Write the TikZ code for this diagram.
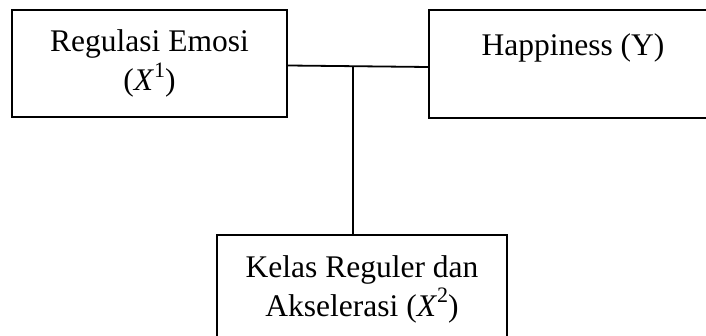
\documentclass[tikz,border=0pt]{standalone}
\usepackage{fontspec}
\setmainfont{Liberation Serif}
\newcommand{\varX}[1]{\textit{X}\raisebox{0.42em}{\fontsize{22}{22}\selectfont #1}}
\begin{document}
\begin{tikzpicture}[x=1pt,y=-1pt,
  box/.style={draw=black,line width=1.8pt,rectangle,inner sep=0pt,align=center,
    font=\fontsize{31.5}{39}\selectfont},
  link/.style={draw=black,line width=1.8pt}]
\clip (0,0) rectangle (706,336);
\node[box,minimum width=275pt,minimum height=107pt] (emosi) at (149.5,63.5)
  {Regulasi Emosi\\(\varX{1})};
\node[box,minimum width=288pt,minimum height=108pt] (happy) at (573,64)
  {Happiness (Y)\\\mbox{}};
\node[box,minimum width=290pt,minimum height=108pt] (kelas) at (362,289)
  {Kelas Reguler dan\\Akselerasi (\varX{2})};
\coordinate (l) at ([yshift=-2pt]emosi.east);
\coordinate (r) at ([yshift=-3pt]happy.west);
\draw[link] (l) -- (r);
\coordinate (j) at (353,66);
\draw[link] (j) -- (j |- kelas.north);
\end{tikzpicture}
\end{document}
